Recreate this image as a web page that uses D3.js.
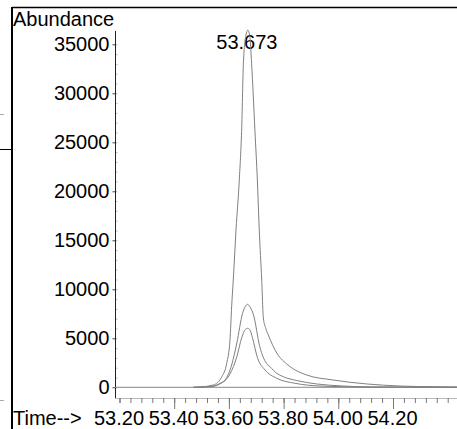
<!DOCTYPE html>
<html>
<head>
<meta charset="utf-8">
<script src="https://cdn.jsdelivr.net/npm/d3@7"></script>
<style>
    body { margin: 0; background: #fff; }
    svg { display: block; }
</style>
</head>
<body>
<div id="chart"></div>
<script>
// Retention times (min) and abundances
const mainTimes  = [53.47, 53.494, 53.543, 53.574, 53.592, 53.604, 53.610, 53.616, 53.626, 53.638, 53.647, 53.653, 53.662, 53.669, 53.676, 53.683, 53.695, 53.704, 53.711, 53.720, 53.726, 53.735, 53.744, 53.775, 53.816, 53.884, 53.981, 54.104, 54.226, 54.347, 54.434];
const mainValues = [0, 30, 235, 1080, 2450, 4830, 8220, 10950, 16050, 21160, 26590, 33060, 35900, 36450, 35900, 33060, 26260, 21160, 16050, 10950, 7070, 6000, 5340, 3500, 2280, 1260, 745, 340, 130, 60, 30];

const midTimes  = [53.47, 53.543, 53.570, 53.586, 53.610, 53.629, 53.650, 53.660, 53.668, 53.676, 53.690, 53.713, 53.737, 53.750, 53.775, 53.799, 53.848, 53.921, 54.017, 54.127, 54.434];
const midValues = [0, 130, 440, 745, 2270, 4520, 7550, 8250, 8470, 8250, 7380, 4140, 2450, 2100, 1430, 1080, 690, 340, 130, 30, 0];

const lowTimes  = [53.47, 53.530, 53.567, 53.604, 53.629, 53.647, 53.660, 53.668, 53.676, 53.686, 53.704, 53.732, 53.775, 53.842, 53.933, 54.100, 54.434];
const lowValues = [0, 60, 340, 1360, 3120, 5080, 5900, 6020, 5900, 5080, 3050, 1770, 920, 410, 130, 30, 0];

const yTicks = [0, 5000, 10000, 15000, 20000, 25000, 30000, 35000];
const xTickValues = [53.2, 53.4, 53.6, 53.8, 54.0, 54.2];
const xTickLabels = ["53.20", "53.40", "53.60", "53.80", "54.00", "54.20"];
const peakTime = 53.673;
const peakLabel = "53.673";

const width = 457, height = 429;
const font = "'Liberation Sans', Arial, sans-serif";

function drawChromatogram() {
    let svg = d3.select('#chart').append('svg')
        .attr('width', width)
        .attr('height', height)
        .style('font-family', font);

    let xScale = d3.scaleLinear().domain([53.2, 54.2]).range([119.5, 393]);
    let yScale = d3.scaleLinear().domain([0, 35000]).range([387.3, 44.3]);

    // Page frame pieces around the plot
    svg.append('line').attr('x1', 12).attr('x2', width).attr('y1', 7.5).attr('y2', 7.5)
        .attr('stroke', '#000').attr('stroke-width', 1.5);
    svg.append('line').attr('x1', 12).attr('x2', 12).attr('y1', 7).attr('y2', height)
        .attr('stroke', '#000').attr('stroke-width', 2);
    svg.append('line').attr('x1', 0).attr('x2', 12).attr('y1', 149.5).attr('y2', 149.5)
        .attr('stroke', '#000').attr('stroke-width', 1);
    svg.append('line').attr('x1', 0).attr('x2', 4).attr('y1', 114.5).attr('y2', 114.5)
        .attr('stroke', '#aaa').attr('stroke-width', 1);
    svg.append('line').attr('x1', 0).attr('x2', 4).attr('y1', 400.5).attr('y2', 400.5)
        .attr('stroke', '#aaa').attr('stroke-width', 1);

    // Y axis
    let yAxis = svg.append('g')
        .attr('transform', 'translate(115.5,0)')
        .call(d3.axisLeft(yScale).tickValues(yTicks).tickSize(3).tickPadding(3).tickFormat(d3.format('d')));
    yAxis.select('.domain').remove();
    yAxis.selectAll('line').attr('stroke', '#444');
    yAxis.selectAll('text').attr('font-size', 20).attr('font-family', font).attr('fill', '#000');

    // minor ticks every 1000
    let yMinor = svg.append('g')
        .attr('transform', 'translate(115.5,0)')
        .call(d3.axisRight(yScale).tickValues(d3.range(0, 36000, 1000)).tickSize(2).tickFormat(''));
    yMinor.select('.domain').remove();
    yMinor.selectAll('line').attr('stroke', '#bbb');

    svg.append('line').attr('x1', 115.5).attr('x2', 115.5).attr('y1', 31).attr('y2', 398)
        .attr('stroke', '#222').attr('stroke-width', 1);

    // X axis: horizontal rule, minor ticks, long ticks and labels
    svg.append('line').attr('x1', 115).attr('x2', width).attr('y1', 398.5).attr('y2', 398.5)
        .attr('stroke', '#bbb').attr('stroke-width', 1);

    let xMinor = svg.append('g')
        .attr('transform', 'translate(0,398)')
        .call(d3.axisBottom(xScale).tickValues(d3.range(0, 31).map(i => 53.2 + i * 0.04)).tickSize(5).tickFormat(''));
    xMinor.select('.domain').remove();
    xMinor.selectAll('line').attr('stroke', '#777');

    let xAxis = svg.append('g')
        .attr('transform', 'translate(0,398)')
        .call(d3.axisBottom(xScale).tickValues(xTickValues).tickSize(11).tickPadding(2)
            .tickFormat((d, i) => xTickLabels[i]));
    xAxis.select('.domain').remove();
    xAxis.selectAll('line')
        .attr('stroke', '#777')
        .attr('y2', d => d === 53.2 ? 5 : 11);
    xAxis.selectAll('text')
        .attr('font-size', 20).attr('font-family', font).attr('fill', '#000')
        .attr('x', -1);

    // zero baseline
    svg.append('line').attr('x1', 115).attr('x2', width)
        .attr('y1', yScale(0)).attr('y2', yScale(0))
        .attr('stroke', '#888').attr('stroke-width', 1);

    // Titles
    svg.append('text').attr('x', 13).attr('y', 26)
        .attr('font-size', 20).attr('fill', '#000').text('Abundance');
    svg.append('text').attr('x', 13).attr('y', 425)
        .attr('font-size', 20).attr('fill', '#000').text('Time-->');

    // Peak label
    svg.append('text').attr('x', xScale(peakTime) - 2).attr('y', 49)
        .attr('font-size', 20).attr('fill', '#000').attr('text-anchor', 'middle')
        .text(peakLabel);

    // Ion traces
    let line = d3.line()
        .x(d => xScale(d[0]))
        .y(d => yScale(d[1]))
        .curve(d3.curveMonotoneX);

    let traces = [
        [mainTimes, mainValues],
        [midTimes, midValues],
        [lowTimes, lowValues]
    ];
    traces.forEach(t => {
        svg.append('path')
            .datum(t[0].map((x, i) => [x, t[1][i]]))
            .attr('d', line)
            .attr('fill', 'none')
            .attr('stroke', '#808080')
            .attr('stroke-width', 1);
    });
}

drawChromatogram();
</script>
</body>
</html>
